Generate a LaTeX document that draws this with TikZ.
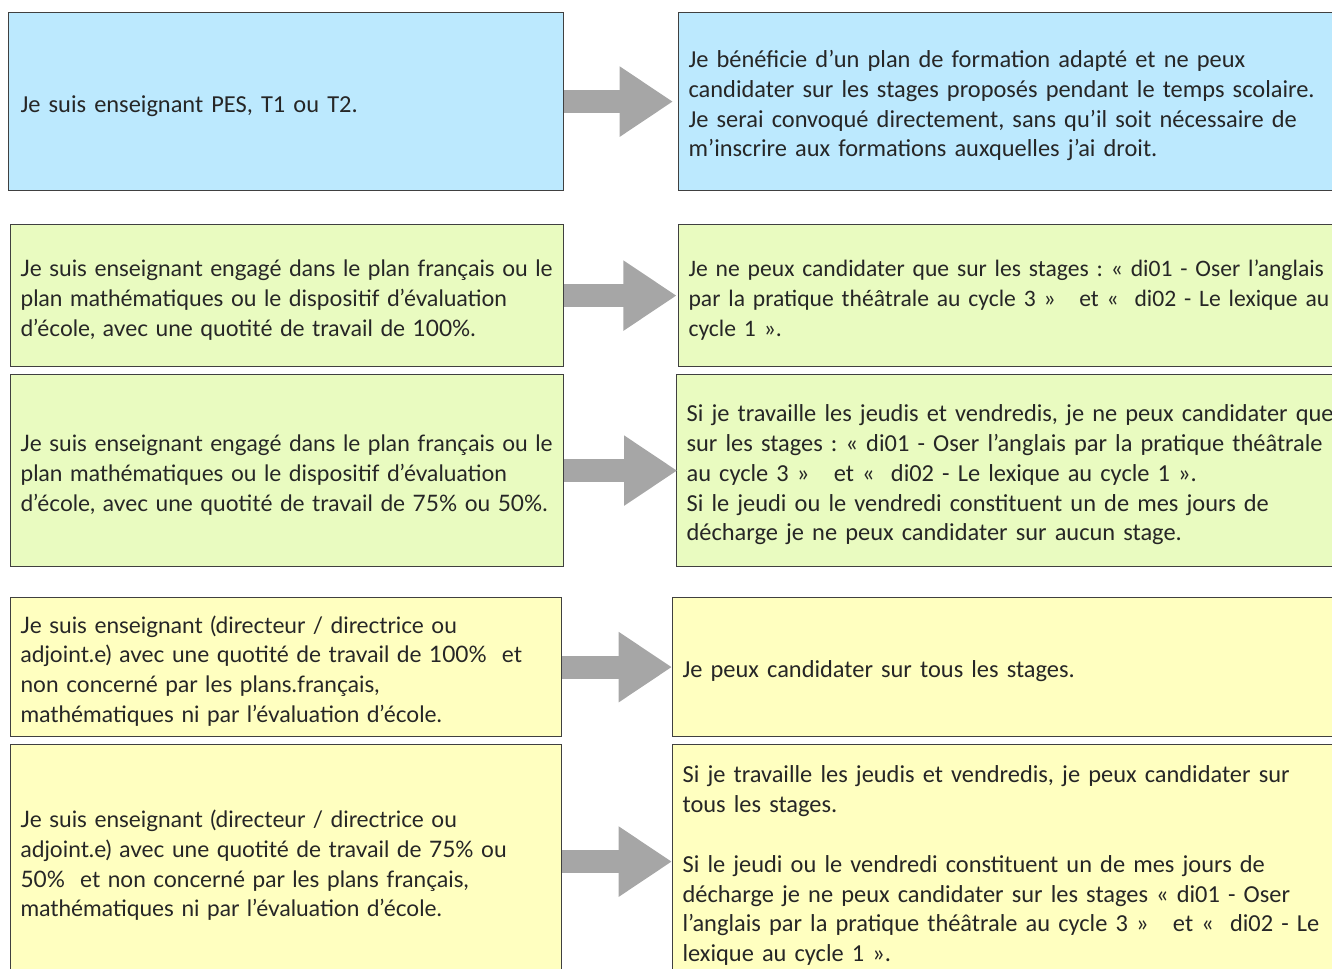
\documentclass[tikz,border=0pt]{standalone}
\usepackage{fontspec}
\setmainfont{Carlito}
\newfontfamily\marfont{Lato}
\usetikzlibrary{arrows.meta}
\frenchspacing
\definecolor{cblue}{RGB}{188,233,254}
\definecolor{cgreen}{RGB}{233,251,192}
\definecolor{cyellow}{RGB}{255,255,192}
\definecolor{cgray}{RGB}{166,166,166}
\definecolor{cborder}{RGB}{64,64,64}
\newcommand\calfont{\fontsize{18.3}{22.35}\selectfont}
\newcommand\calsmall{\fontsize{17.7}{22.35}\selectfont}
\newcommand\latfont{\marfont\fontsize{17}{22.35}\selectfont}
\newcommand\lns[1]{\raisebox{-3.5pt}[\height][\depth]{\begin{tabular}{@{}l@{}}#1\end{tabular}}}
\tikzset{
  cell/.style={draw=cborder, line width=0.9pt, anchor=north west, align=left,
    inner ysep=0pt, inner xsep=7.5pt, text=black!85, font=\calfont},
  lcell/.style={cell, font=\latfont},
  bigarrow/.style={draw=cgray, line width=17.25pt,
    -{Triangle[length=40pt,width=50pt,fill=cgray]}},
}
\begin{document}
\begin{tikzpicture}[x=0.75pt,y=-0.75pt]
\clip (0,0) rectangle (1332,968);
% row 1
\node[cell, fill=cblue, inner xsep=9pt, text width=398.25pt, minimum height=133.5pt] (L1) at (8,12)
  {\lns{Je suis enseignant PES, T1 ou T2.}};
\node[cell, fill=cblue, text width=496.5pt, minimum height=133.5pt] (R1) at (678,12)
  {\lns{Je bénéficie d’un plan de formation adapté et ne peux\\
   candidater sur les stages proposés pendant le temps scolaire.\\
   Je serai convoqué directement, sans qu’il soit nécessaire de\\
   m’inscrire aux formations auxquelles j’ai droit.}};
% row 2
\node[lcell, fill=cgreen, text width=399.75pt, minimum height=106.5pt] (L2) at (10,224)
  {\lns{Je suis enseignant engagé dans le plan français ou le\\
   plan mathématiques ou le dispositif d’évaluation\\
   d’école, avec une quotité de travail de 100\%.}};
\node[cell, font=\calsmall, fill=cgreen, text width=496.5pt, minimum height=106.5pt] (R2) at (678,224)
  {\lns{Je ne peux candidater que sur les stages : « di01 - Oser l’anglais\\
   par la pratique théâtrale au cycle 3 »\ \ \ et «\ \ di02 - Le lexique au\\
   cycle 1 ».}};
% row 3
\node[lcell, fill=cgreen, text width=399.75pt, minimum height=144pt] (L3) at (10,374)
  {\lns{Je suis enseignant engagé dans le plan français ou le\\
   plan mathématiques ou le dispositif d’évaluation\\
   d’école, avec une quotité de travail de 75\% ou 50\%.}};
\node[cell, fill=cgreen, text width=498pt, minimum height=144pt] (R3) at (676,374)
  {\lns{Si je travaille les jeudis et vendredis, je ne peux candidater que\\
   sur les stages : « di01 - Oser l’anglais par la pratique théâtrale\\
   au cycle 3 »\ \ \ et «\ \ di02 - Le lexique au cycle 1 ».\\
   Si le jeudi ou le vendredi constituent un de mes jours de\\
   décharge je ne peux candidater sur aucun stage.}};
% row 4
\node[lcell, fill=cyellow, text width=398.25pt, minimum height=104.25pt] (L4) at (10,597)
  {\lns{Je suis enseignant (directeur / directrice ou\\
   adjoint.e) avec une quotité de travail de 100\%\ \ et\\
   non concerné par les plans.français,\\
   mathématiques ni par l’évaluation d’école.}};
\node[cell, fill=cyellow, text width=501pt, minimum height=104.25pt] (R4) at (672,597)
  {\lns{Je peux candidater sur tous les stages.}};
% row 5
\node[lcell, fill=cyellow, text width=398.25pt, minimum height=175.5pt] (L5) at (10,744)
  {\lns{Je suis enseignant (directeur / directrice ou\\
   adjoint.e) avec une quotité de travail de 75\% ou\\
   50\%\ \ et non concerné par les plans français,\\
   mathématiques ni par l’évaluation d’école.}};
\node[cell, fill=cyellow, text width=501pt, minimum height=175.5pt] (R5) at (672,744)
  {\lns{Si je travaille les jeudis et vendredis, je peux candidater sur\\
   tous les stages.\\
   \\
   Si le jeudi ou le vendredi constituent un de mes jours de\\
   décharge je ne peux candidater sur les stages « di01 - Oser\\
   l’anglais par la pratique théâtrale au cycle 3 »\ \ \ et «\ \ di02 - Le\\
   lexique au cycle 1 ».}};
% arrows
\draw[bigarrow, shorten >=3.75pt] (L1.east) -- (L1.east -| R1.west);
\draw[bigarrow, shorten >=1pt] (L2.east) -- (L2.east -| R2.west);
\draw[bigarrow, shorten >=-1pt] (L3.east) -- (L3.east -| R3.west);
\draw[bigarrow] (L4.east) -- (L4.east -| R4.west);
\draw[bigarrow] (L5.east) -- (L5.east -| R5.west);
\end{tikzpicture}
\end{document}
